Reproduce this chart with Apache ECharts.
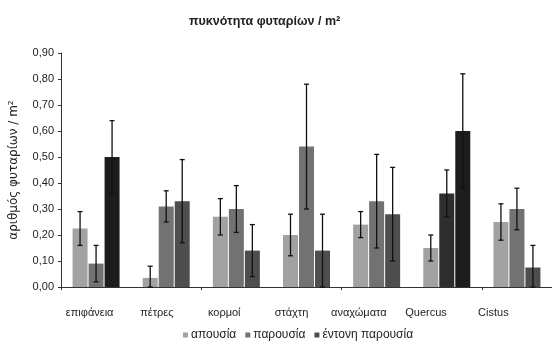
<!DOCTYPE html>
<html>
<head>
<meta charset="utf-8">
<script src="https://cdn.jsdelivr.net/npm/echarts@6/dist/echarts.min.js"></script>
<style>html,body{margin:0;padding:0;background:#fff;}#c{width:552px;height:341px;}</style>
</head>
<body>
<div id="c"></div>
<script>
var categories = ['επιφάνεια', 'πέτρες', 'κορμοί', 'στάχτη', 'αναχώματα', 'Quercus', 'Cistus'];
var seriesNames = ['απουσία', 'παρουσία', 'έντονη παρουσία'];
var absence = [0.225, 0.035, 0.27, 0.20, 0.24, 0.15, 0.25];
var presence = [0.09, 0.31, 0.30, 0.54, 0.33, 0.36, 0.30];
var intense = [0.50, 0.33, 0.14, 0.14, 0.28, 0.60, 0.075];
var errAbsence = [0.065, 0.045, 0.07, 0.08, 0.05, 0.05, 0.07];
var errPresence = [0.07, 0.06, 0.09, 0.24, 0.18, 0.09, 0.08];
var errIntense = [0.14, 0.16, 0.10, 0.14, 0.18, 0.22, 0.085];
var yTicks = [0, 0.1, 0.2, 0.3, 0.4, 0.5, 0.6, 0.7, 0.8, 0.9];

var FONT = 'Liberation Sans';
var colors = ['#a2a2a2', '#727272', '#4e4e4e'];
var darkCats = { 'επιφάνεια': 1, 'Quercus': 1 };
var BW = 15, GAP = 1;

function errData(vals, errs) {
  return vals.map(function (v, i) { return [i, Math.max(0, v - errs[i]), v + errs[i]]; });
}
function errRenderer(k) {
  return function (params, api) {
    var i = api.value(0);
    var pLo = api.coord([i, api.value(1)]);
    var pHi = api.coord([i, api.value(2)]);
    var x = pLo[0] + (k - 1) * (BW + GAP);
    var st = { stroke: '#111', lineWidth: 1.3 };
    return { type: 'group', children: [
      { type: 'line', shape: { x1: x, y1: pLo[1], x2: x, y2: pHi[1] }, style: st },
      { type: 'line', shape: { x1: x - 2.5, y1: pHi[1], x2: x + 2.5, y2: pHi[1] }, style: st },
      { type: 'line', shape: { x1: x - 2.5, y1: pLo[1], x2: x + 2.5, y2: pLo[1] }, style: st }
    ] };
  };
}

var vals = [absence, presence, intense];
var errs = [errAbsence, errPresence, errIntense];
var series = [];
vals.forEach(function (arr, k) {
  series.push({
    type: 'bar', name: seriesNames[k], data: arr, barWidth: BW, barGap: (GAP / BW * 100) + '%',
    xAxisIndex: 0, yAxisIndex: 0,
    itemStyle: {
      color: function (p) {
        if (k === 2 && darkCats[categories[p.dataIndex]]) return '#1c1c1c';
        if (k === 1 && categories[p.dataIndex] === 'Quercus') return '#2e2e2e';
        return colors[k];
      }
    }
  });
});
vals.forEach(function (arr, k) {
  series.push({
    type: 'custom', name: 'err' + k, xAxisIndex: 0, yAxisIndex: 0, z: 5,
    renderItem: errRenderer(k), data: errData(arr, errs[k]), silent: true
  });
});

var chart = echarts.init(document.getElementById('c'));
chart.setOption({
  animation: false,
  backgroundColor: '#fff',
  color: colors,
  title: {
    text: 'πυκνότητα φυταρίων / m²', left: 184, top: 10,
    textStyle: { fontFamily: FONT, fontSize: 12.5, fontWeight: 'bold', color: '#222' }
  },
  legend: {
    data: seriesNames, left: 178, top: 324, icon: 'rect', itemWidth: 5, itemHeight: 5, itemGap: 9,
    textStyle: { fontFamily: FONT, fontSize: 12, color: '#222', padding: [0, 0, 0, -2] }
  },
  grid: [
    { left: 59, right: -4, top: 53, bottom: 54 },
    { left: 56, right: 25, top: 53, bottom: 54 }
  ],
  xAxis: [
    { type: 'category', gridIndex: 0, data: categories,
      axisLine: { lineStyle: { color: '#333', width: 1 } },
      axisTick: { show: true, length: 3, lineStyle: { color: '#333' } },
      axisLabel: { show: false } },
    { type: 'category', gridIndex: 1, data: categories,
      axisLine: { show: false }, axisTick: { show: false },
      axisLabel: { interval: 0, margin: 20, fontFamily: FONT, fontSize: 11, color: '#222' } }
  ],
  yAxis: [
    { type: 'value', gridIndex: 0, min: 0, max: 0.9, interval: 0.1,
      name: 'αριθμός φυταρίων / m²', nameLocation: 'middle', nameGap: 41, nameRotate: 90,
      nameTextStyle: { fontFamily: 'DejaVu Sans', fontSize: 12, color: '#222' },
      axisLine: { show: true, lineStyle: { color: '#333' } },
      axisTick: { show: true, length: 3, lineStyle: { color: '#333' } },
      splitLine: { show: false },
      axisLabel: { margin: 7, fontFamily: FONT, fontSize: 11, color: '#222',
        formatter: function (v) { return v.toFixed(2).replace('.', ','); } } },
    { type: 'value', gridIndex: 1, min: 0, max: 0.9, show: false, splitLine: { show: false } }
  ],
  series: series
});
</script>
</body>
</html>
